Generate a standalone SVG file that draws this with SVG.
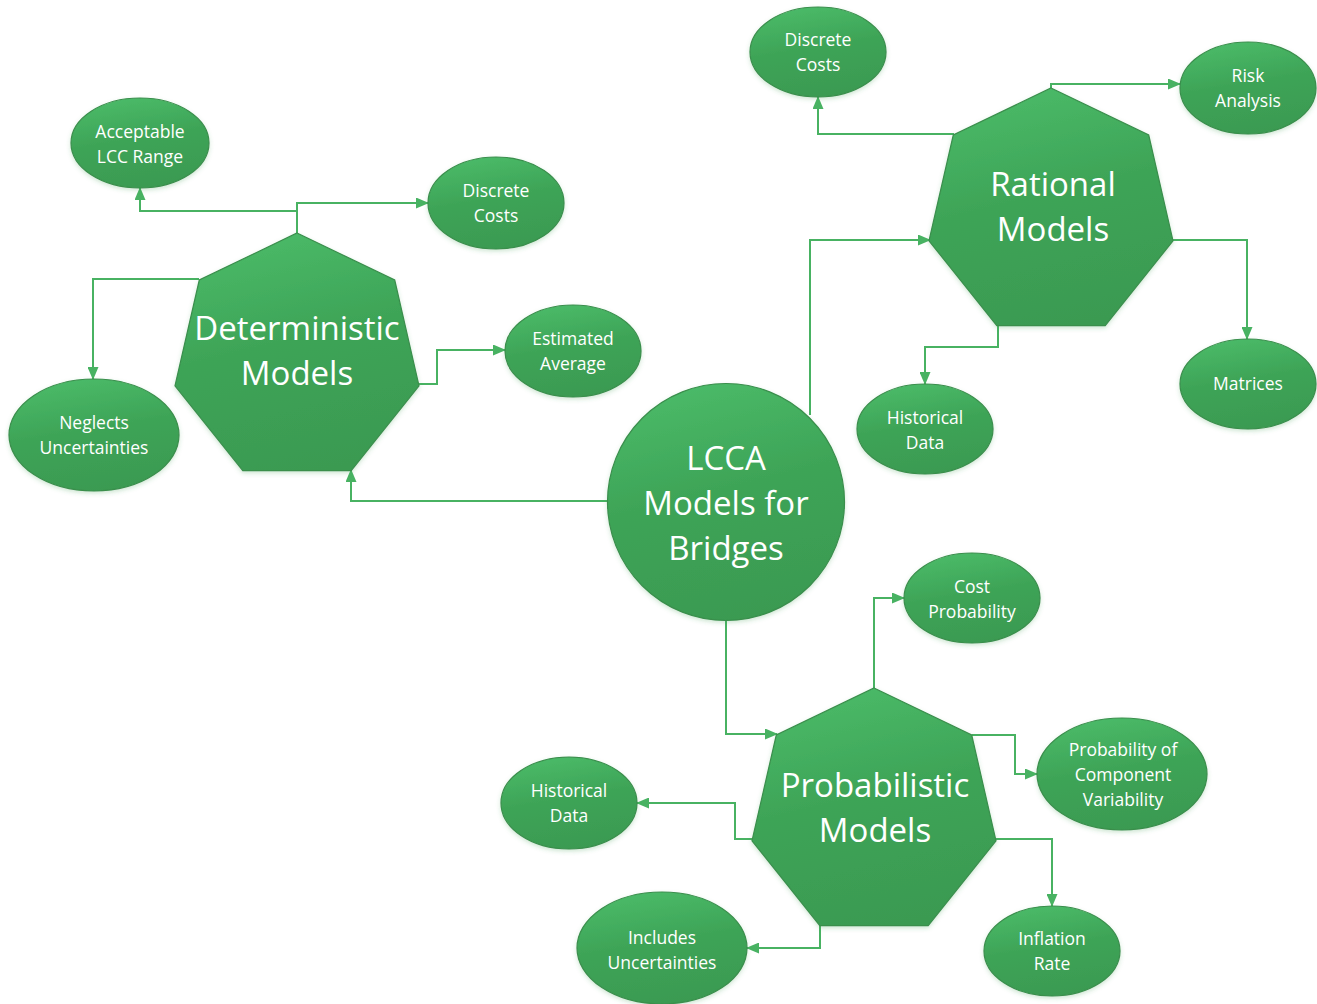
<svg xmlns="http://www.w3.org/2000/svg" width="1317" height="1004" viewBox="0 0 1317 1004">
<defs>
<linearGradient id="g" x1="0.35" y1="0" x2="0.6" y2="1">
<stop offset="0" stop-color="#4aba68"/>
<stop offset="0.45" stop-color="#3ea457"/>
<stop offset="1" stop-color="#3a9a51"/>
</linearGradient>
<filter id="sh" x="-10%" y="-10%" width="120%" height="125%">
<feDropShadow dx="0" dy="2" stdDeviation="2" flood-color="#3a9a51" flood-opacity="0.25"/>
</filter>
<marker id="ar" viewBox="0 0 13 11" refX="12" refY="5.5" markerWidth="13" markerHeight="11" markerUnits="userSpaceOnUse" orient="auto">
<path d="M0,0 L13,5.5 L0,11 Z" fill="#48b262"/>
</marker>
<style>
.n{fill:url(#g);stroke:#3a8e4c;stroke-width:1.2;filter:url(#sh)}
.t{font-family:"Open Sans","Noto Sans","Liberation Sans",sans-serif;fill:#fff;text-anchor:middle}
.big{font-size:33px}
.sm{font-size:17.5px}
.c{fill:none;stroke:#48b262;stroke-width:2;marker-end:url(#ar)}
</style>
</defs>
<g id="connectors">
<path class="c" d="M297,233 V211 H140 V188"/>
<path class="c" d="M297,233 V203 H428"/>
<path class="c" d="M199,279 H93 V379"/>
<path class="c" d="M419,384 H437 V350 H505"/>
<path class="c" d="M608,501 H351 V470"/>
<path class="c" d="M810,415 V240 H930"/>
<path class="c" d="M954,134 H818 V97"/>
<path class="c" d="M1051,88 V84 H1180"/>
<path class="c" d="M1173,240 H1247 V339"/>
<path class="c" d="M998,325 V347 H925 V384"/>
<path class="c" d="M726,620 V734 H777"/>
<path class="c" d="M874,688 V598 H904"/>
<path class="c" d="M972,735 H1015 V774 H1037"/>
<path class="c" d="M752,839 H735 V803 H637"/>
<path class="c" d="M996,839 H1052 V906"/>
<path class="c" d="M820,925 V948 H747"/>
</g>
<g id="deterministic">
<polygon class="n" points="297,233 394.7,280 419,385.8 351.2,470.6 242.8,470.6 175,385.8 199.3,280"/>
<text class="t big" x="297" y="340">Deterministic</text>
<text class="t big" x="297" y="385">Models</text>
</g>
<g id="rational">
<polygon class="n" points="1051,88 1148.7,135 1173,240.8 1105.2,325.6 996.8,325.6 929,240.8 953.3,135"/>
<text class="t big" x="1053" y="196">Rational</text>
<text class="t big" x="1053" y="241">Models</text>
</g>
<g id="probabilistic">
<polygon class="n" points="874,688 971.7,735 996,840.8 928.2,925.6 819.8,925.6 752,840.8 776.3,735"/>
<text class="t big" x="875" y="797">Probabilistic</text>
<text class="t big" x="875" y="842">Models</text>
</g>
<g id="lcca">
<circle class="n" cx="726" cy="502" r="118.5"/>
<text class="t big" x="726" y="470">LCCA</text>
<text class="t big" x="726" y="515">Models for</text>
<text class="t big" x="726" y="560">Bridges</text>
</g>
<g id="acceptable">
<ellipse class="n" cx="140" cy="143" rx="69" ry="45"/>
<text class="t sm" x="140" y="138">Acceptable</text>
<text class="t sm" x="140" y="163">LCC Range</text>
</g>
<g id="discrete-left">
<ellipse class="n" cx="496" cy="203" rx="68" ry="46"/>
<text class="t sm" x="496" y="197">Discrete</text>
<text class="t sm" x="496" y="222">Costs</text>
</g>
<g id="estimated">
<ellipse class="n" cx="573" cy="351" rx="68" ry="46"/>
<text class="t sm" x="573" y="345">Estimated</text>
<text class="t sm" x="573" y="370">Average</text>
</g>
<g id="neglects">
<ellipse class="n" cx="94" cy="435" rx="85" ry="56"/>
<text class="t sm" x="94" y="429">Neglects</text>
<text class="t sm" x="94" y="454">Uncertainties</text>
</g>
<g id="discrete-top">
<ellipse class="n" cx="818" cy="52" rx="68" ry="45"/>
<text class="t sm" x="818" y="46">Discrete</text>
<text class="t sm" x="818" y="71">Costs</text>
</g>
<g id="risk">
<ellipse class="n" cx="1248" cy="88" rx="68" ry="46"/>
<text class="t sm" x="1248" y="82">Risk</text>
<text class="t sm" x="1248" y="107">Analysis</text>
</g>
<g id="matrices">
<ellipse class="n" cx="1248" cy="384" rx="68" ry="45"/>
<text class="t sm" x="1248" y="390">Matrices</text>
</g>
<g id="historical-top">
<ellipse class="n" cx="925" cy="429" rx="68" ry="45"/>
<text class="t sm" x="925" y="424">Historical</text>
<text class="t sm" x="925" y="449">Data</text>
</g>
<g id="cost-probability">
<ellipse class="n" cx="972" cy="598" rx="68" ry="45"/>
<text class="t sm" x="972" y="593">Cost</text>
<text class="t sm" x="972" y="618">Probability</text>
</g>
<g id="component">
<ellipse class="n" cx="1122" cy="774" rx="85" ry="56"/>
<text class="t sm" x="1123" y="756">Probability of</text>
<text class="t sm" x="1123" y="781">Component</text>
<text class="t sm" x="1123" y="806">Variability</text>
</g>
<g id="historical-bottom">
<ellipse class="n" cx="569" cy="803" rx="68" ry="46"/>
<text class="t sm" x="569" y="797">Historical</text>
<text class="t sm" x="569" y="822">Data</text>
</g>
<g id="includes">
<ellipse class="n" cx="662" cy="948" rx="85" ry="56"/>
<text class="t sm" x="662" y="944">Includes</text>
<text class="t sm" x="662" y="969">Uncertainties</text>
</g>
<g id="inflation">
<ellipse class="n" cx="1052" cy="951" rx="68" ry="45"/>
<text class="t sm" x="1052" y="945">Inflation</text>
<text class="t sm" x="1052" y="970">Rate</text>
</g>
</svg>
